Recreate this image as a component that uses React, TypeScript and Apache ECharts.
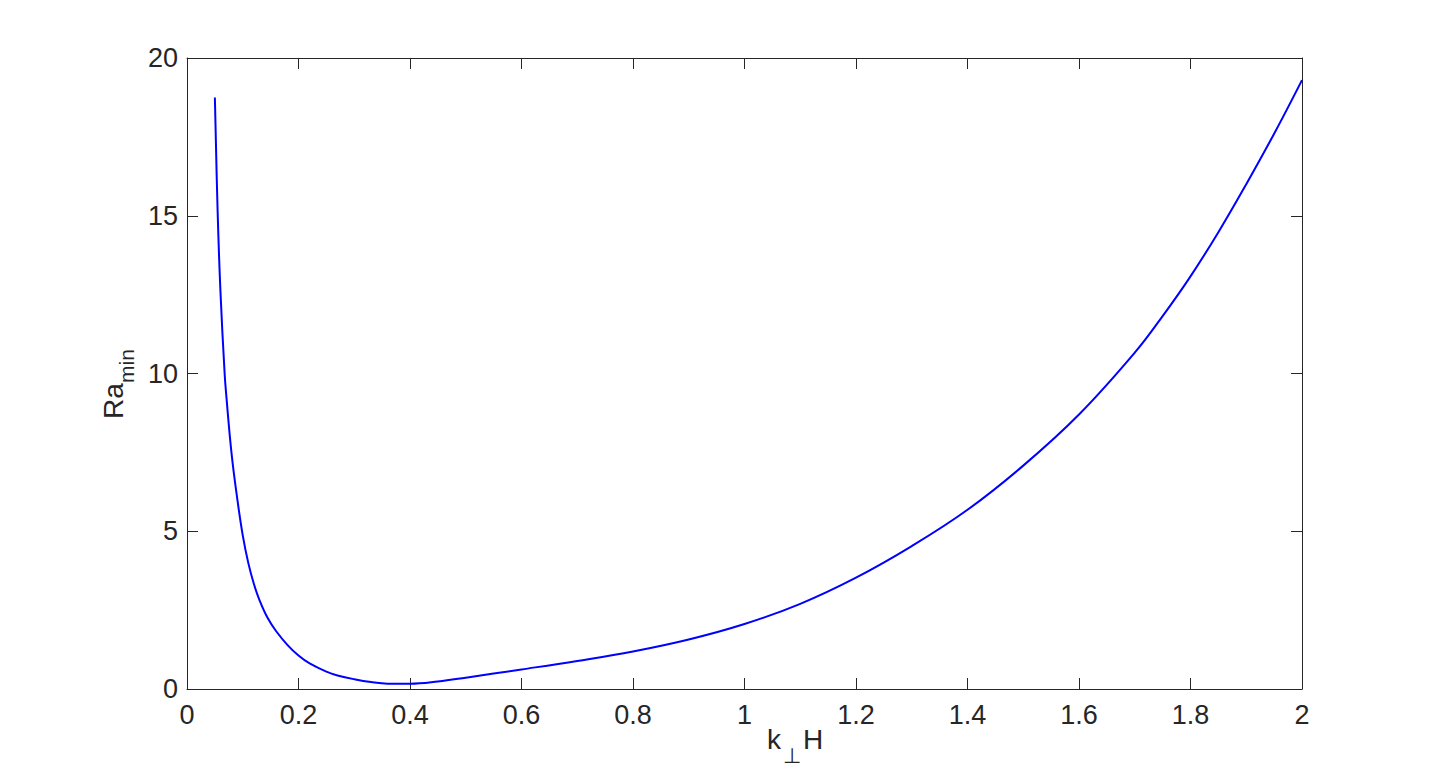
import React, { useEffect, useRef } from 'react';
import * as echarts from 'echarts';

// k_perp H values (x) and Ra_min values (y)
const kH = [
  0.05, 0.055, 0.06, 0.0675, 0.07, 0.08, 0.09, 0.1, 0.11, 0.12, 0.13, 0.145,
  0.16, 0.18, 0.2, 0.22, 0.25, 0.27, 0.3, 0.33, 0.36, 0.4, 0.45, 0.5,
  0.6, 0.7, 0.8, 0.9, 1.0, 1.1, 1.2, 1.3, 1.4, 1.5, 1.6, 1.7, 1.75, 1.8, 1.85,
  1.9, 1.95, 2.0,
];
const raMin = [
  18.75, 15.1, 12.6, 10.0, 9.4, 7.45, 6.05, 4.87, 3.99, 3.33, 2.82, 2.24,
  1.83, 1.4, 1.06, 0.81, 0.55, 0.43, 0.31, 0.22, 0.17, 0.17, 0.24, 0.36,
  0.62, 0.89, 1.19, 1.57, 2.06, 2.7, 3.53, 4.53, 5.68, 7.08, 8.7, 10.66, 11.82,
  13.08, 14.48, 16.0, 17.6, 19.3,
];

const X_MIN = 0;
const X_MAX = 2;
const X_STEP = 0.2;
const Y_MIN = 0;
const Y_MAX = 20;
const Y_STEP = 5;

export default function App() {
  const ref = useRef<HTMLDivElement>(null);

  useEffect(() => {
    const chart = echarts.init(ref.current!, null, { renderer: 'svg' });
    const font = "'Liberation Sans', Arial, Helvetica, sans-serif";
    const axisColor = '#262626';

    const axisLine = { show: true, onZero: false, lineStyle: { color: axisColor, width: 1 } };
    const axisTick = { show: true, inside: true, length: 11, lineStyle: { color: axisColor, width: 1 } };

    chart.setOption({
      animation: false,
      backgroundColor: '#ffffff',
      grid: { left: 187, top: 58, width: 1115, height: 631 },
      xAxis: [
        {
          type: 'value',
          min: X_MIN,
          max: X_MAX,
          interval: X_STEP,
          position: 'bottom',
          axisLine,
          axisTick,
          splitLine: { show: false },
          axisLabel: { color: axisColor, fontSize: 27, fontFamily: font, margin: 12 },
        },
        {
          type: 'value',
          min: X_MIN,
          max: X_MAX,
          interval: X_STEP,
          position: 'top',
          axisLine,
          axisTick,
          splitLine: { show: false },
          axisLabel: { show: false },
        },
      ],
      yAxis: [
        {
          type: 'value',
          min: Y_MIN,
          max: Y_MAX,
          interval: Y_STEP,
          position: 'left',
          axisLine,
          axisTick,
          splitLine: { show: false },
          axisLabel: { color: axisColor, fontSize: 27, fontFamily: font, margin: 9 },
        },
        {
          type: 'value',
          min: Y_MIN,
          max: Y_MAX,
          interval: Y_STEP,
          position: 'right',
          axisLine,
          axisTick,
          splitLine: { show: false },
          axisLabel: { show: false },
        },
      ],
      series: [
        {
          type: 'line',
          data: kH.map((k, i) => [k, raMin[i]]),
          showSymbol: false,
          smooth: 0.4,
          lineStyle: { color: '#0000ff', width: 2 },
          itemStyle: { color: '#0000ff' },
          xAxisIndex: 0,
          yAxisIndex: 0,
        },
      ],
      graphic: [
        {
          type: 'group',
          x: 113,
          y: 419,
          rotation: Math.PI / 2,
          children: [
            {
              type: 'text',
              x: 0,
              y: 0,
              style: { text: 'Ra', font: `28px ${font}`, fill: axisColor, align: 'left', verticalAlign: 'middle' },
            },
            {
              type: 'text',
              x: 36,
              y: 13,
              style: { text: 'min', font: `21px ${font}`, fill: axisColor, align: 'left', verticalAlign: 'middle' },
            },
          ],
        },
        {
          type: 'text',
          x: 767,
          y: 739,
          style: { text: 'k', font: `28px ${font}`, fill: axisColor, align: 'left', verticalAlign: 'middle' },
        },
        {
          type: 'text',
          x: 783,
          y: 755,
          style: { text: '⊥', font: `21px ${font}`, fill: axisColor, align: 'left', verticalAlign: 'middle' },
        },
        {
          type: 'text',
          x: 803,
          y: 739,
          style: { text: 'H', font: `28px ${font}`, fill: axisColor, align: 'left', verticalAlign: 'middle' },
        },
      ],
    });

    return () => chart.dispose();
  }, []);

  return (
    <div
      ref={ref}
      style={{ position: 'fixed', left: 0, top: 0, width: 1439, height: 775, background: '#ffffff' }}
    />
  );
}
